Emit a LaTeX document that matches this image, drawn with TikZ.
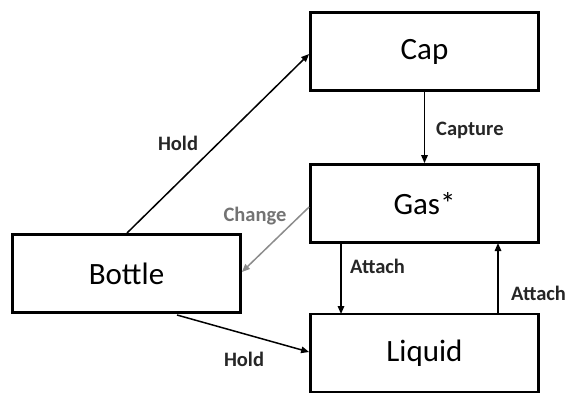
\documentclass[tikz,border=0pt]{standalone}
\usepackage{fontspec}
\setmainfont{Carlito}
\usetikzlibrary{arrows.meta}
\begin{document}
\begin{tikzpicture}[x=1pt,y=-1pt,
  box/.style={draw=black,line width=2.8pt,rectangle,minimum width=228pt,minimum height=78pt,inner sep=0pt,font=\fontsize{31}{34}\selectfont},
  conn/.style={line width=1.5pt,-{Triangle[length=8pt,width=6.5pt]}},
  lbl/.style={font=\fontsize{20.5}{22}\selectfont\bfseries,inner sep=0pt,text=black!85}]
\useasboundingbox (0,0) rectangle (569,394);
\node[box] (cap) at (424.5,51.5) {Cap};
\node[box] (gas) at (424.5,203.5) {Gas*};
\node[box] (bottle) at (126.5,273.5) {Bottle};
\node[box] (liquid) at (424.5,353) {Liquid};
\coordinate (bt) at (127,233);
\coordinate (bb) at (177,315);
% Hold to Cap
\draw[conn] (bt) -- (cap.west |- 0,54);
\node[lbl] (l1) at (178,143) {Hold};
% Capture
\draw[conn] (cap.south) -- (gas.north);
\node[lbl,anchor=west] (l2) at (436,130) {Capture};
% Change
\draw[conn,draw=black!45] (gas.west |- 0,207) -- (bottle.east |- 0,272);
\node[lbl,text=black!55] (l3) at (255,216) {Change};
% Attach down
\draw[conn] (341,243) coordinate (ad1) -- (341,314) coordinate (ad2);
\node[lbl,anchor=west] (l4) at (350,266) {Attach};
% Attach up
\draw[conn] (498,314) coordinate (au1) -- (498,243) coordinate (au2);
\node[lbl,anchor=west] (l5) at (511,293) {Attach};
% Hold to Liquid
\draw[conn] (bb) -- (liquid.west |- 0,352);
\node[lbl] (l6) at (244,359) {Hold};
\end{tikzpicture}
\end{document}
